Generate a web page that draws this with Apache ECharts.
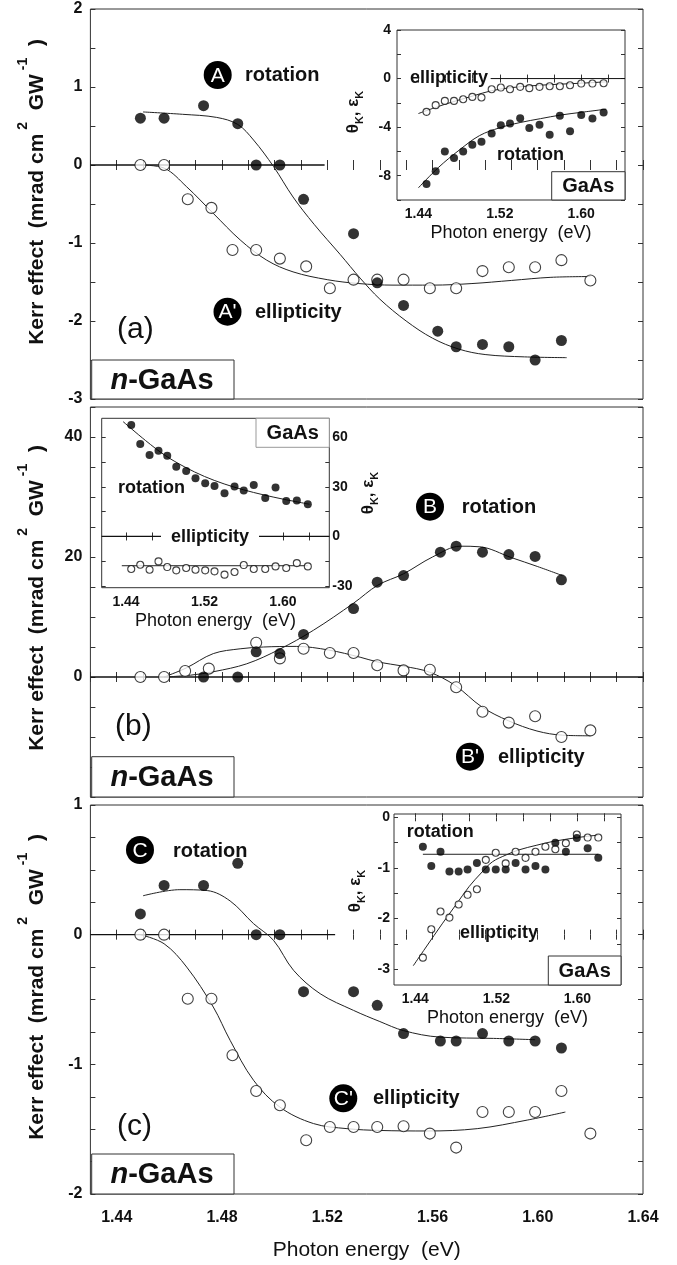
<!DOCTYPE html>
<html><head><meta charset="utf-8">
<script src="https://cdn.jsdelivr.net/npm/echarts@6/dist/echarts.min.js"></script>
<style>html,body{margin:0;padding:0;background:#fff}#c{width:677px;height:1265px}</style>
</head><body><div id="c"></div>
<script>
// ---------------- DATA ----------------
// Panel (a)
const aRotX = [1.449, 1.458, 1.473, 1.486, 1.493, 1.502, 1.511, 1.530, 1.539, 1.549, 1.562, 1.569, 1.579, 1.589, 1.599, 1.609];
const aRotY = [0.60, 0.60, 0.76, 0.53, 0.00, 0.00, -0.44, -0.88, -1.51, -1.80, -2.13, -2.33, -2.30, -2.33, -2.50, -2.25];
const aEllX = [1.449, 1.458, 1.467, 1.476, 1.484, 1.493, 1.502, 1.512, 1.521, 1.530, 1.539, 1.549, 1.559, 1.569, 1.579, 1.589, 1.599, 1.609, 1.620];
const aEllY = [0, 0, -0.44, -0.55, -1.09, -1.09, -1.20, -1.30, -1.58, -1.47, -1.47, -1.47, -1.58, -1.58, -1.36, -1.31, -1.31, -1.22, -1.48];
const aRotFitX = [1.450, 1.465, 1.478, 1.486, 1.492, 1.4996, 1.507, 1.515, 1.525, 1.5325, 1.540, 1.550, 1.560, 1.570, 1.580, 1.595, 1.611];
const aRotFitY = [0.68, 0.65, 0.61, 0.52, 0.32, -0.02, -0.41, -0.76, -1.15, -1.45, -1.72, -2.00, -2.22, -2.36, -2.43, -2.46, -2.47];
const aEllFitX = [1.449, 1.458, 1.4666, 1.4767, 1.4869, 1.497, 1.507, 1.520, 1.532, 1.545, 1.560, 1.575, 1.590, 1.605, 1.620];
const aEllFitY = [0, -0.04, -0.28, -0.62, -0.96, -1.22, -1.37, -1.47, -1.52, -1.54, -1.54, -1.52, -1.48, -1.44, -1.43];
const aZeroX = [1.43, 1.519];

// Panel (b)
const bRotX = [1.473, 1.486, 1.493, 1.502, 1.511, 1.530, 1.539, 1.549, 1.563, 1.569, 1.579, 1.589, 1.599, 1.609];
const bRotY = [0, 0, 4.2, 3.9, 7.1, 11.4, 15.8, 16.9, 20.8, 21.8, 20.8, 20.4, 20.1, 16.2];
const bEllX = [1.449, 1.458, 1.466, 1.475, 1.493, 1.502, 1.511, 1.521, 1.530, 1.539, 1.549, 1.559, 1.569, 1.579, 1.589, 1.599, 1.609, 1.620];
const bEllY = [0, 0, 1.0, 1.4, 5.7, 3.1, 4.7, 4.0, 4.0, 1.95, 1.1, 1.2, -1.7, -5.8, -7.6, -6.55, -10.0, -8.9];
const bRotFitX = [1.458, 1.468, 1.477, 1.4894, 1.5018, 1.5148, 1.530, 1.5392, 1.549, 1.560, 1.5706, 1.578, 1.590, 1.600, 1.6094];
const bRotFitY = [0, 0.3, 0.9, 2.2, 4.6, 7.8, 12.3, 15.3, 17.2, 20.0, 21.8, 21.7, 19.9, 18.4, 16.9];
const bEllFitX = [1.458, 1.4664, 1.4767, 1.4869, 1.4958, 1.5082, 1.5205, 1.5325, 1.5392, 1.549, 1.5589, 1.5686, 1.5788, 1.5889, 1.5997, 1.6094, 1.620];
const bEllFitY = [0, 1.5, 3.9, 4.7, 5.0, 5.1, 4.5, 3.3, 2.5, 1.8, 0.8, -1.4, -5.0, -7.3, -9.0, -9.7, -9.8];
const bZeroX = [1.43, 1.64];

// Panel (c)
const cRotX = [1.449, 1.458, 1.473, 1.486, 1.493, 1.502, 1.511, 1.530, 1.539, 1.549, 1.563, 1.569, 1.579, 1.589, 1.599, 1.609];
const cRotY = [0.16, 0.38, 0.38, 0.55, 0, 0, -0.44, -0.44, -0.545, -0.763, -0.82, -0.82, -0.763, -0.82, -0.82, -0.874];
const cEllX = [1.449, 1.458, 1.467, 1.476, 1.484, 1.493, 1.502, 1.512, 1.521, 1.530, 1.539, 1.549, 1.559, 1.569, 1.579, 1.589, 1.599, 1.609, 1.620];
const cEllY = [0, 0, -0.494, -0.494, -0.93, -1.206, -1.316, -1.586, -1.483, -1.483, -1.483, -1.478, -1.534, -1.642, -1.368, -1.368, -1.368, -1.206, -1.534];
const cRotFitX = [1.450, 1.464, 1.4744, 1.4831, 1.492, 1.4996, 1.5072, 1.5173, 1.530, 1.540, 1.549, 1.5627, 1.5832, 1.599];
const cRotFitY = [0.30, 0.347, 0.34, 0.26, 0.085, -0.044, -0.275, -0.455, -0.584, -0.67, -0.74, -0.79, -0.80, -0.81];
const cEllFitX = [1.449, 1.458, 1.4666, 1.4767, 1.4831, 1.492, 1.502, 1.5148, 1.5275, 1.540, 1.558, 1.577, 1.596, 1.6105];
const cEllFitY = [0, -0.07, -0.25, -0.558, -0.815, -1.123, -1.33, -1.457, -1.496, -1.51, -1.514, -1.496, -1.43, -1.368];
const cZeroX = [1.43, 1.523];

// Inset (a)
const iaX = [1.448, 1.457, 1.466, 1.475, 1.484, 1.493, 1.502, 1.512, 1.521, 1.530, 1.540, 1.549, 1.559, 1.569, 1.579, 1.589, 1.600, 1.611, 1.622];
const iaEll = [-2.74, -2.19, -1.84, -1.84, -1.70, -1.51, -1.56, -0.88, -0.74, -0.88, -0.68, -0.79, -0.68, -0.63, -0.63, -0.55, -0.41, -0.41, -0.38];
const iaRot = [-8.68, -7.64, -6.0, -6.55, -6.0, -5.45, -5.21, -4.52, -3.84, -3.70, -3.26, -4.08, -3.81, -4.63, -3.07, -4.33, -2.99, -3.29, -2.79];
const iaEllFitX = [1.44, 1.466, 1.494, 1.512, 1.530, 1.559, 1.600, 1.6245];
const iaEllFitY = [-2.88, -2.12, -1.42, -1.0, -0.76, -0.55, -0.38, -0.27];
const iaRotFitX = [1.44, 1.46, 1.48, 1.50, 1.52, 1.54, 1.56, 1.58, 1.60, 1.6245];
const iaRotFitY = [-9.0, -7.3, -5.9, -4.7, -4.05, -3.62, -3.3, -3.0, -2.78, -2.52];
const iaZeroX = [1.511, 1.643];

// Inset (b)
const ibX = [1.4453, 1.4545, 1.4640, 1.4731, 1.4820, 1.4912, 1.5013, 1.5108, 1.5207, 1.5302, 1.5404, 1.5506, 1.5600, 1.5702, 1.5819, 1.5924, 1.6033, 1.6141, 1.6253];
const ibRot = [67.4, 55.9, 49.3, 51.9, 48.9, 42.2, 39.6, 35.2, 32.2, 30.6, 26.2, 30.2, 27.8, 31.2, 23.2, 29.6, 21.5, 21.7, 19.5];
const ibEll = [-19.7, -17.1, -20.1, -15.1, -18.5, -20.5, -19.1, -20.1, -20.5, -21.1, -23.1, -21.5, -17.3, -19.7, -19.7, -18.1, -19.1, -16.1, -18.1];
const ibRotFitX = [1.437, 1.46, 1.48, 1.50, 1.52, 1.54, 1.56, 1.58, 1.60, 1.627];
const ibRotFitY = [69.5, 58, 49, 42, 36.3, 31.8, 28.2, 25.2, 22.6, 19.5];
const ibEllFitX = [1.4357, 1.6253];
const ibEllFitY = [-17.7, -17.7];
const ibZeroX = [1.4152, 1.6472];

// Inset (c)
const icX = [1.4475, 1.4558, 1.4649, 1.4737, 1.4828, 1.4916, 1.5008, 1.5096, 1.5194, 1.5292, 1.5390, 1.5488, 1.5586, 1.5684, 1.5782, 1.5886, 1.5994, 1.6101, 1.6206];
const icRot = [-0.58, -0.96, -0.68, -1.07, -1.07, -1.03, -0.90, -1.03, -1.03, -1.03, -0.90, -1.03, -0.96, -1.03, -0.50, -0.68, -0.41, -0.61, -0.80];
const icEll = [-2.77, -2.21, -1.86, -1.98, -1.72, -1.53, -1.42, -0.84, -0.70, -0.91, -0.68, -0.80, -0.68, -0.58, -0.63, -0.51, -0.34, -0.40, -0.40];
const icRotFitX = [1.4475, 1.6206];
const icRotFitY = [-0.73, -0.73];
const icEllFitX = [1.438, 1.45, 1.467, 1.48, 1.493, 1.505, 1.516, 1.53, 1.542, 1.56, 1.575, 1.60, 1.621];
const icEllFitY = [-2.93, -2.58, -2.09, -1.73, -1.37, -1.10, -0.88, -0.74, -0.645, -0.55, -0.48, -0.40, -0.35];

// Tick/label values
const insetXTicks = [1.44, 1.46667, 1.49333, 1.52, 1.54667, 1.57333, 1.60, 1.62667];
const insetXLabels = [1.44, 1.52, 1.60];
const iaYTicks = [-10, -8, -6, -4, -2, 0, 2, 4];
const iaYLabels = [-8, -4, 0, 4];
const ibYTicks = [-30, -15, 0, 15, 30, 45, 60];
const ibYLabels = [-30, 0, 30, 60];
const icYTicks = [-3, -2.5, -2, -1.5, -1, -0.5, 0];
const icYLabels = [-3, -2, -1, 0];

const X_TITLE = 'Photon energy  (eV)';
const Y_TITLE = '{b|Kerr effect  (mrad cm}{s| 2}{b|  GW}{s| -1}{b|  )}';
const THETA_TITLE = '{b|\u03b8}{sub|K}{b|, \u03b5}{sub|K}';

// ---------------- CHART ----------------
const FONT = "'Liberation Sans', Arial, Helvetica, sans-serif";
const INK = '#111';
const AX = '#333';
const zip = (xs, ys) => xs.map((x, i) => [x, ys[i]]);

const chart = echarts.init(document.getElementById('c'), null, {renderer: 'canvas', width: 677, height: 1265});

const gridDefs = [
  {left: 90.4, top: 9, width: 552.6, height: 390, backgroundColor: 'transparent'},
  {left: 90.4, top: 407, width: 552.6, height: 390, backgroundColor: 'transparent'},
  {left: 90.4, top: 805, width: 552.6, height: 389, backgroundColor: 'transparent'},
  {left: 397, top: 30, width: 228, height: 170, backgroundColor: '#fff'},
  {left: 101.7, top: 418.3, width: 227.6, height: 169.4, backgroundColor: '#fff'},
  {left: 394, top: 814, width: 227, height: 171, backgroundColor: '#fff'}
].map(g => Object.assign({show: true, borderColor: AX, borderWidth: 1, containLabel: false}, g));

function baseAxis(o) {
  return Object.assign({
    type: 'value',
    axisLine: {show: false},
    splitLine: {show: false}
  }, o);
}
function mainX(gi, pos, labels) {
  return baseAxis({
    gridIndex: gi, position: pos, min: 1.43, max: 1.64, interval: 0.01,
    axisTick: {show: true, inside: true, length: 5, lineStyle: {color: AX, width: 1}},
    axisLabel: {show: labels, margin: 16, color: INK, fontSize: 16, fontWeight: 'bold', fontFamily: FONT,
      formatter: v => (Math.round(v * 100) % 4 === 0 ? v.toFixed(2) : '')},
    name: labels ? X_TITLE : '', nameLocation: 'middle', nameGap: 46,
    nameTextStyle: {fontSize: 21, fontFamily: FONT, color: INK}
  });
}
function mainY(gi, pos, min, max, step, fmt) {
  return baseAxis({
    gridIndex: gi, position: pos, min: min, max: max, interval: step,
    axisTick: {show: true, inside: true, length: 5, lineStyle: {color: AX, width: 1}},
    axisLabel: {show: !!fmt, margin: 8, color: INK, fontSize: 16, fontWeight: 'bold', fontFamily: FONT, formatter: fmt}
  });
}
const intFmt = v => (Math.abs(v - Math.round(v)) < 1e-6 ? String(Math.round(v)) : '');
const twentyFmt = v => (v >= -1e-6 && Math.abs(v / 20 - Math.round(v / 20)) < 1e-6 ? String(Math.round(v)) : '');

function insetX(gi, pos, min, max, labels) {
  return baseAxis({
    gridIndex: gi, position: pos, min: min, max: max,
    axisTick: {show: true, inside: true, length: 4, customValues: insetXTicks, lineStyle: {color: AX, width: 1}},
    axisLabel: {show: labels, customValues: insetXLabels, margin: 7, color: INK, fontSize: 14, fontWeight: 'bold', fontFamily: FONT,
      formatter: v => v.toFixed(2)},
    name: labels ? X_TITLE : '', nameLocation: 'middle', nameGap: 24,
    nameTextStyle: {fontSize: 18, fontFamily: FONT, color: INK}
  });
}
function insetY(gi, pos, min, max, ticks, labels, margin) {
  return baseAxis({
    gridIndex: gi, position: pos, min: min, max: max,
    axisTick: {show: true, inside: true, length: 4, customValues: ticks, lineStyle: {color: AX, width: 1}},
    axisLabel: {show: !!labels, customValues: labels || ticks, margin: margin || 5, color: INK, fontSize: 14, fontWeight: 'bold', fontFamily: FONT,
      formatter: v => String(Math.round(v))}
  });
}

const xAxes = [
  mainX(0, 'bottom', false), mainX(0, 'top', false),
  mainX(1, 'bottom', false), mainX(1, 'top', false),
  mainX(2, 'bottom', true), mainX(2, 'top', false),
  insetX(3, 'bottom', 1.419, 1.643, true), insetX(3, 'top', 1.419, 1.643, false),
  insetX(4, 'bottom', 1.4152, 1.6472, true), insetX(4, 'top', 1.4152, 1.6472, false),
  insetX(5, 'bottom', 1.419, 1.643, true), insetX(5, 'top', 1.419, 1.643, false)
];
const yAxes = [
  mainY(0, 'left', -3, 2, 0.5, intFmt), mainY(0, 'right', -3, 2, 0.5, null),
  mainY(1, 'left', -20, 45, 5, twentyFmt), mainY(1, 'right', -20, 45, 5, null),
  mainY(2, 'left', -2, 1, 0.25, intFmt), mainY(2, 'right', -2, 1, 0.25, null),
  insetY(3, 'left', -10, 4, iaYTicks, iaYLabels, 6), insetY(3, 'right', -10, 4, iaYTicks, null),
  insetY(4, 'left', -31, 71.5, ibYTicks, null), insetY(4, 'right', -31, 71.5, ibYTicks, ibYLabels, 3),
  insetY(5, 'left', -3.31, 0.065, icYTicks, icYLabels, 4), insetY(5, 'right', -3.31, 0.065, icYTicks, null)
];

const series = [];
function fit(ax, xs, ys, smooth) {
  series.push({type: 'line', xAxisIndex: ax, yAxisIndex: ax, data: zip(xs, ys), smooth: smooth === undefined ? 0.35 : smooth,
    symbol: 'none', showSymbol: false, silent: true, z: 3, lineStyle: {color: '#222', width: 1}});
}
function zero(ax, xs, w) {
  series.push({type: 'line', xAxisIndex: ax, yAxisIndex: ax, data: xs.map(x => [x, 0]), symbol: 'none', showSymbol: false,
    silent: true, z: 3, lineStyle: {color: '#111', width: w || 1.3}});
}
function dots(ax, xs, ys, filled, size) {
  series.push({type: 'scatter', xAxisIndex: ax, yAxisIndex: ax, data: zip(xs, ys), symbol: 'circle', symbolSize: size, z: 5, silent: true,
    itemStyle: filled ? {color: '#000'} : {color: '#fff', borderColor: '#111', borderWidth: 1.1}});
}
// main (a)
zero(0, aZeroX); fit(0, aRotFitX, aRotFitY); fit(0, aEllFitX, aEllFitY);
dots(0, aEllX, aEllY, false, 11); dots(0, aRotX, aRotY, true, 11);
// main (b)
zero(2, bZeroX); fit(2, bRotFitX, bRotFitY); fit(2, bEllFitX, bEllFitY);
dots(2, bEllX, bEllY, false, 11); dots(2, bRotX, bRotY, true, 11);
// main (c)
zero(4, cZeroX); fit(4, cRotFitX, cRotFitY); fit(4, cEllFitX, cEllFitY);
dots(4, cEllX, cEllY, false, 11); dots(4, cRotX, cRotY, true, 11);
// inset (a)
zero(6, iaZeroX, 1); fit(6, iaEllFitX, iaEllFitY); fit(6, iaRotFitX, iaRotFitY);
dots(6, iaX, iaEll, false, 7); dots(6, iaX, iaRot, true, 8);
// inset (b)
zero(8, ibZeroX, 1.2); fit(8, ibRotFitX, ibRotFitY); fit(8, ibEllFitX, ibEllFitY, false);
dots(8, ibX, ibEll, false, 7); dots(8, ibX, ibRot, true, 8);
// inset (c)
fit(10, icRotFitX, icRotFitY, false); fit(10, icEllFitX, icEllFitY);
dots(10, icX, icEll, false, 7); dots(10, icX, icRot, true, 8);

// ---------------- ANNOTATIONS ----------------
const G = [];
function text(x, y, str, size, weight, align, extra) {
  G.push({type: 'text', x: x, y: y, z: 100, silent: true,
    style: Object.assign({text: str, fill: INK, fontSize: size, fontWeight: weight, fontFamily: FONT,
      align: align || 'left', verticalAlign: 'middle'}, extra || {})});
}
function badge(cx, cy, letter) {
  G.push({type: 'circle', z: 100, silent: true, shape: {cx: cx, cy: cy, r: 14}, style: {fill: '#000'}});
  G.push({type: 'text', z: 101, silent: true, x: cx, y: cy + 1,
    style: {text: letter, fill: '#fff', fontSize: 21, fontFamily: FONT, align: 'center', verticalAlign: 'middle'}});
}
function box(x, y, w, h, stroke) {
  G.push({type: 'rect', z: 99, silent: true, shape: {x: x, y: y, width: w, height: h}, style: {fill: '#fff', stroke: stroke, lineWidth: 1}});
}
function yTitle(x, y) {
  G.push({type: 'text', z: 100, silent: true, x: x, y: y, rotation: Math.PI / 2,
    style: {text: Y_TITLE, align: 'center', verticalAlign: 'middle',
      rich: {b: {fontSize: 21, fontWeight: 'bold', fontFamily: FONT, fill: INK, lineHeight: 42},
             s: {fontSize: 14, fontWeight: 'bold', fontFamily: FONT, fill: INK, lineHeight: 14, verticalAlign: 'top'}}}});
}
function thetaTitle(x, y) {
  G.push({type: 'text', z: 100, silent: true, x: x, y: y, rotation: Math.PI / 2,
    style: {text: THETA_TITLE, align: 'center', verticalAlign: 'middle',
      rich: {b: {fontSize: 17, fontWeight: 'bold', fontFamily: FONT, fill: INK, lineHeight: 24},
             sub: {fontSize: 11, fontWeight: 'bold', fontFamily: FONT, fill: INK, lineHeight: 11, verticalAlign: 'bottom'}}}});
}
function nGaAs(y, h) {
  box(91.7, y, 142.3, h, AX);
  G.push({type: 'text', z: 101, silent: true, x: 162, y: y + h / 2 + 1,
    style: {text: '{i|n}{b|-GaAs}', align: 'center', verticalAlign: 'middle',
      rich: {i: {fontSize: 29, fontWeight: 'bold', fontStyle: 'italic', fontFamily: FONT, fill: INK},
             b: {fontSize: 29, fontWeight: 'bold', fontFamily: FONT, fill: INK}}}});
}

yTitle(37, 192); yTitle(37, 598); yTitle(37, 987);

badge(217.7, 75, 'A'); text(245, 75, 'rotation', 20, 'bold');
badge(227.5, 311.7, "A'"); text(255, 312, 'ellipticity', 20, 'bold');
text(117, 330, '(a)', 30, 'normal');
nGaAs(360, 39);

badge(430, 506.7, 'B'); text(461.7, 507, 'rotation', 20, 'bold');
badge(470, 756.7, "B'"); text(498, 757, 'ellipticity', 20, 'bold');
text(115, 727, '(b)', 30, 'normal');
nGaAs(756.7, 40.3);

badge(140, 850, 'C'); text(173, 851, 'rotation', 20, 'bold');
badge(343.3, 1098.3, "C'"); text(373, 1098, 'ellipticity', 20, 'bold');
text(117, 1127, '(c)', 30, 'normal');
nGaAs(1154, 40);

// inset (a)
text(410, 78, 'ellipticity', 18, 'bold');
text(497, 155, 'rotation', 18, 'bold');
box(551.7, 171.7, 73.3, 28.3, AX); text(588.3, 186.5, 'GaAs', 20, 'bold', 'center');
thetaTitle(353, 112);
// inset (b)
text(118, 488, 'rotation', 18, 'bold');
text(210, 537, 'ellipticity', 18, 'bold', 'center', {backgroundColor: '#fff', padding: [1, 10]});
box(256, 418.3, 73.3, 29, '#999'); text(292.7, 433.5, 'GaAs', 20, 'bold', 'center');
thetaTitle(368, 493);
// inset (c)
text(406.7, 832, 'rotation', 18, 'bold');
text(460, 933, 'ellipticity', 18, 'bold');
box(548.3, 956, 72.7, 29, AX); text(584.7, 971, 'GaAs', 20, 'bold', 'center');
thetaTitle(355, 891);

chart.setOption({
  animation: false,
  backgroundColor: '#fff',
  grid: gridDefs,
  xAxis: xAxes,
  yAxis: yAxes,
  series: series,
  graphic: {elements: G}
});
</script></body></html>
